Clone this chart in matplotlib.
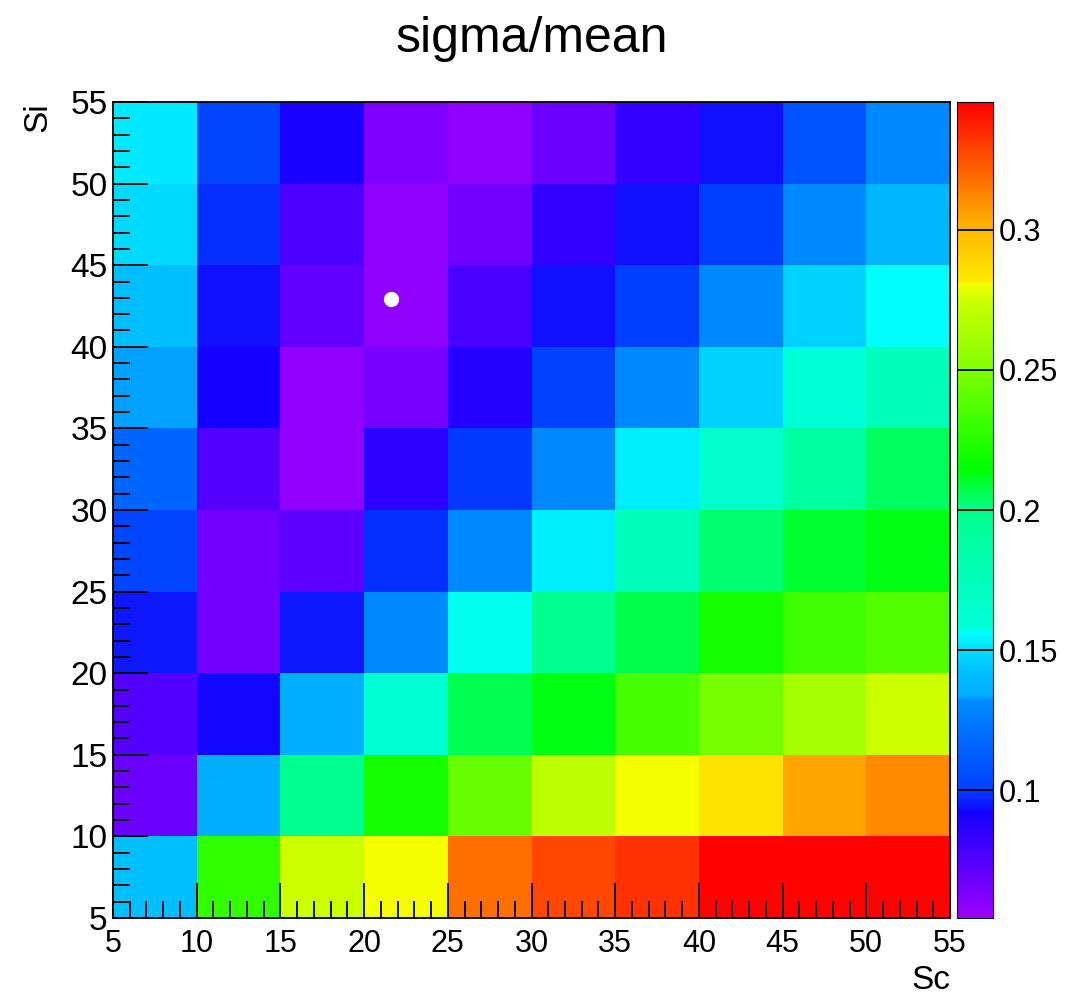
import numpy as np
import matplotlib
matplotlib.use("Agg")
import matplotlib.pyplot as plt
from matplotlib.colors import LinearSegmentedColormap, Normalize
from matplotlib.ticker import MultipleLocator

plt.rcParams['font.family'] = ['Liberation Sans', 'DejaVu Sans']

# -------------------------------
# Data
# -------------------------------
sc_edges = [5, 10, 15, 20, 25, 30, 35, 40, 45, 50, 55]
si_edges = [5, 10, 15, 20, 25, 30, 35, 40, 45, 50, 55]

# sigma/mean per bin, one row per Si bin (Si = 5-10 first), columns Sc = 5-10 ... 50-55
ratio = [
    [0.142, 0.228, 0.275, 0.2808, 0.318, 0.328, 0.333, 0.345, 0.345, 0.345],
    [0.068, 0.134, 0.198, 0.220, 0.243, 0.270, 0.2805, 0.284, 0.305, 0.311],
    [0.075, 0.093, 0.134, 0.162, 0.206, 0.213, 0.235, 0.247, 0.262, 0.275],
    [0.095, 0.066, 0.095, 0.130, 0.157, 0.198, 0.207, 0.220, 0.232, 0.237],
    [0.102, 0.066, 0.072, 0.098, 0.130, 0.153, 0.175, 0.203, 0.210, 0.213],
    [0.115, 0.075, 0.058, 0.086, 0.099, 0.130, 0.153, 0.165, 0.190, 0.205],
    [0.133, 0.092, 0.058, 0.065, 0.088, 0.101, 0.130, 0.147, 0.160, 0.175],
    [0.142, 0.094, 0.071, 0.0585, 0.078, 0.094, 0.100, 0.130, 0.147, 0.156],
    [0.149, 0.098, 0.077, 0.0585, 0.066, 0.084, 0.094, 0.100, 0.130, 0.138],
    [0.152, 0.102, 0.091, 0.063, 0.0585, 0.068, 0.084, 0.094, 0.1085, 0.130],
]

best_sc = [21.6]
best_si = [42.9]

z_min, z_max = 0.0543, 0.3457
z_ticks = [0.1, 0.15, 0.2, 0.25, 0.3]

# -------------------------------
# ROOT-like rainbow palette
# -------------------------------
anchors = [
    (0.0543, (0.62, 0.0, 1.0)),
    (0.092, (0.08, 0.0, 1.0)),
    (0.100, (0.0, 0.25, 1.0)),
    (0.132, (0.0, 0.55, 1.0)),
    (0.1335, (0.0, 0.68, 1.0)),
    (0.142, (0.0, 0.75, 1.0)),
    (0.150, (0.0, 0.87, 1.0)),
    (0.156, (0.0, 1.0, 1.0)),
    (0.158, (0.0, 1.0, 0.85)),
    (0.200, (0.0, 1.0, 0.55)),
    (0.215, (0.0, 1.0, 0.0)),
    (0.250, (0.5, 1.0, 0.0)),
    (0.275, (0.8, 1.0, 0.0)),
    (0.281, (0.97, 1.0, 0.0)),
    (0.2815, (1.0, 0.92, 0.0)),
    (0.300, (1.0, 0.72, 0.0)),
    (0.3457, (1.0, 0.0, 0.0)),
]
cmap = LinearSegmentedColormap.from_list(
    "root_pretty",
    [((v - z_min) / (z_max - z_min), c) for v, c in anchors],
    N=1024,
)
norm = Normalize(vmin=z_min, vmax=z_max)

# -------------------------------
# Figure
# -------------------------------
W, H = 1091, 998
fig = plt.figure(figsize=(W / 100, H / 100), dpi=100)
ax = fig.add_axes([113 / W, 1 - 918 / H, 837 / W, 816 / H])
cax = fig.add_axes([957 / W, 1 - 918 / H, 36 / W, 816 / H])

mesh = ax.pcolormesh(sc_edges, si_edges, np.array(ratio), cmap=cmap, norm=norm)
ax.plot(best_sc, best_si, "o", color="white", markersize=11, markeredgewidth=0)

ax.set_xlim(5, 55)
ax.set_ylim(5, 55)
ax.xaxis.set_major_locator(MultipleLocator(5))
ax.yaxis.set_major_locator(MultipleLocator(5))
ax.xaxis.set_minor_locator(MultipleLocator(1))
ax.yaxis.set_minor_locator(MultipleLocator(1))
ax.tick_params(which="both", direction="in", top=False, right=False, width=1.3)
ax.tick_params(which="major", length=25)
ax.tick_params(which="minor", length=12)
ax.tick_params(axis="x", pad=8, labelsize=22)
ax.tick_params(axis="y", pad=4, labelsize=24)
for s in ax.spines.values():
    s.set_linewidth(1.3)

ax.set_xlabel("Sc", fontsize=24, loc="right", labelpad=4)
ax.set_ylabel("Si", fontsize=24, loc="top", labelpad=12)
ax.set_title("sigma/mean", fontsize=36, pad=36)

cb = fig.colorbar(mesh, cax=cax)
cb.set_ticks(z_ticks)
cb.set_ticklabels(["0.1", "0.15", "0.2", "0.25", "0.3"])
cb.ax.tick_params(direction="in", length=25, width=1.3, labelsize=22, pad=4)
cb.ax.minorticks_off()
cb.outline.set_linewidth(0.8)

fig.savefig("out.png", dpi=100)
